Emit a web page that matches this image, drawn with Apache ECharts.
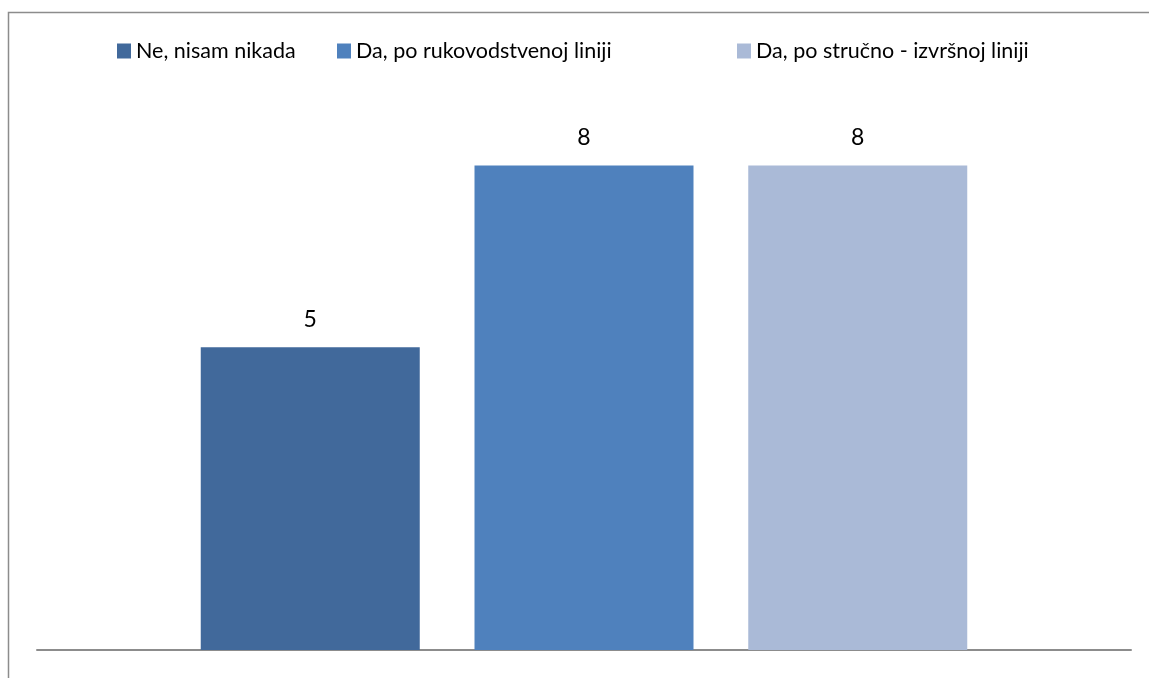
<!DOCTYPE html>
<html>
<head>
<meta charset="utf-8">
<script src="https://cdn.jsdelivr.net/npm/echarts@6/dist/echarts.min.js"></script>
<style>
  html, body { margin: 0; padding: 0; background: #fff; }
  #chart { width: 1149px; height: 678px; }
</style>
</head>
<body>
<div id="chart"></div>
<script>
  /******************/
  //region    //data

  let categories = [''];
  let seriesNames = ['Ne, nisam nikada', 'Da, po rukovodstvenoj liniji', 'Da, po stručno - izvršnoj liniji'];
  let seriesValues = [[5], [8], [8]];
  let seriesColors = ['#41699b', '#4f81bd', '#aabad7'];

  //endregion

  /******************/
  //region    //chart

  let echart = echarts.init(document.getElementById('chart'));
  let font = 'Lato, "Open Sans", sans-serif';
  let legendLeft = [112, 332, 732];

  let option = {
    animation: false,
    color: seriesColors,
    legend: seriesNames.map((name, i) => ({
      data: [name],
      left: legendLeft[i],
      top: 35,
      icon: 'rect',
      itemWidth: 14,
      itemHeight: 15,
      itemGap: 6,
      textStyle: { fontFamily: font, fontSize: 21.5, color: '#000' },
    })),
    graphic: [{
      type: 'rect',
      shape: { x: 8.5, y: 12.5, width: 1200, height: 700 },
      style: { fill: 'none', stroke: '#8c8c8c', lineWidth: 1.5 },
      silent: true,
    }],
    grid: { left: 37, right: 18, top: 105, bottom: 28 },
    xAxis: {
      type: 'category',
      data: categories,
      axisTick: { show: false },
      axisLabel: { show: false },
      axisLine: { lineStyle: { color: '#8c8c8c', width: 2 } },
    },
    yAxis: {
      type: 'value',
      min: 0,
      max: 9,
      show: false,
      splitLine: { show: false },
    },
    series: seriesNames.map((name, i) => ({
      name: name,
      type: 'bar',
      data: seriesValues[i],
      barWidth: 219,
      barGap: '25%',
      label: {
        show: true,
        position: 'top',
        distance: 16,
        fontFamily: font,
        fontSize: 23,
        color: '#000',
      },
    })),
  };

  echart.setOption(option);

  //endregion
</script>
</body>
</html>
